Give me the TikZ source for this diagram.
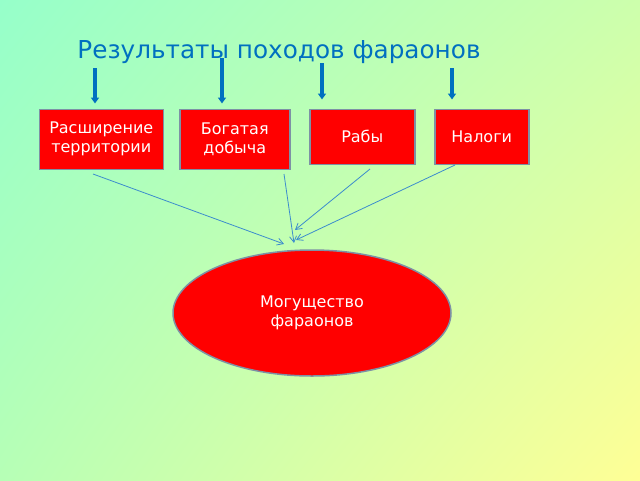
\documentclass[tikz,border=0pt]{standalone}
\usepackage{fontspec}
\setmainfont{DejaVu Sans}
\usetikzlibrary{arrows.meta,positioning,shapes.geometric,shadings}
\definecolor{fonlt}{RGB}{150,255,202}
\definecolor{fonrt}{RGB}{205,255,172}
\definecolor{fonlb}{RGB}{182,255,182}
\definecolor{fonrb}{RGB}{255,255,150}
\definecolor{sinij}{RGB}{0,112,192}
\definecolor{svsinij}{RGB}{60,140,205}
\definecolor{ramka}{RGB}{125,145,165}
\tikzset{
  blok/.style={draw=ramka,line width=1.5pt,fill=red,text=white,align=center,inner sep=2pt,
               font=\fontsize{16}{19}\selectfont},
  oval/.style={ellipse,draw=ramka,line width=1.5pt,fill=red,text=white,align=center,inner sep=0pt,
               font=\fontsize{16}{19}\selectfont,minimum width=278pt,minimum height=126pt},
  strelka/.style={-{Straight Barb[length=6pt,width=7pt]},draw=svsinij,line width=0.8pt},
  tstrelka/.style={-{Triangle[length=6pt,width=8pt]},draw=sinij,line width=3.4pt},
}
\begin{document}
\begin{tikzpicture}[x=1pt,y=-1pt]
  \useasboundingbox (0,0) rectangle (640,480);
  \shade[upper left=fonlt,upper right=fonrt,lower left=fonlb,lower right=fonrb] (0,0) rectangle (640,480);
  % zagolovok
  \node[text=sinij,font=\fontsize{24.7}{28}\selectfont] (zag) at (279,52) {Результаты походов фараонов};
  % bloki
  \node[blok,minimum width=124pt,minimum height=60pt,anchor=north west] (b1) at (38.5,108.5) {Расширение\\территории};
  \node[blok,minimum width=110pt,minimum height=60pt,right=15pt of b1.north east,anchor=north west] (b2) {Богатая\\добыча};
  \node[blok,minimum width=105pt,minimum height=55pt,right=18.5pt of b2.north east,anchor=north west] (b3) {Рабы};
  \node[blok,minimum width=94pt,minimum height=55pt,right=18.5pt of b3.north east,anchor=north west] (b4) {Налоги};
  \node[oval] (mog) at (312,313) {Могущество\\фараонов};
  % tolstye strelki
  \coordinate (t1) at (95,68);
  \coordinate (t2) at (222,58);
  \coordinate (t3) at (322,63);
  \coordinate (t4) at (452,68);
  \draw[tstrelka,shorten >=5pt] (t1) -- (t1 |- b1.north);
  \draw[tstrelka,shorten >=5pt] (t2) -- (t2 |- b2.north);
  \draw[tstrelka,shorten >=9pt] (t3) -- (t3 |- b3.north);
  \draw[tstrelka,shorten >=9pt] (t4) -- (t4 |- b4.north);
  % tonkie strelki
  \coordinate (n1) at (93,174);   \coordinate (k1) at (284,244);
  \coordinate (n2) at (284,174);  \coordinate (k2) at (294,243);
  \coordinate (n3) at (370,169);  \coordinate (k3) at (295,230);
  \coordinate (n4) at (455,165);  \coordinate (k4) at (296,240);
  \draw[strelka] (n1) -- (k1);
  \draw[strelka] (n2) -- (k2);
  \draw[strelka] (n3) -- (k3);
  \draw[strelka] (n4) -- (k4);
\end{tikzpicture}
\end{document}
